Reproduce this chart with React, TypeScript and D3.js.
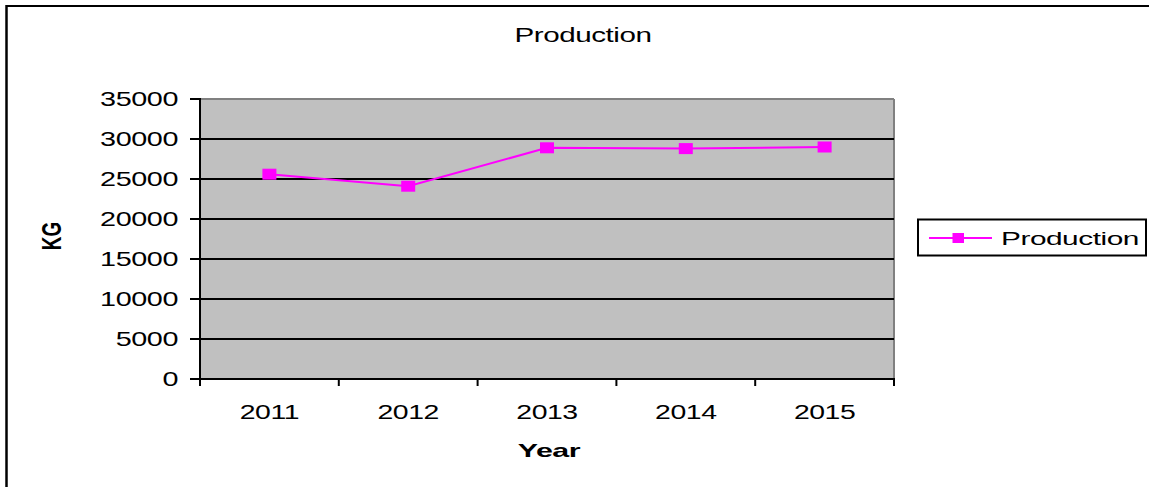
import React from "react";
import * as d3 from "d3";

const years = ["2011", "2012", "2013", "2014", "2015"];
const production = [25600, 24100, 28900, 28800, 29000];
const yTicks = [0, 5000, 10000, 15000, 20000, 25000, 30000, 35000];
const chartTitle = "Production";
const xTitle = "Year";
const yTitle = "KG";
const seriesName = "Production";

const W = 1149;
const H = 487;
const plot = { left: 200, right: 894, top: 99, bottom: 379 };
const FONT = "Arial, 'Liberation Sans', Helvetica, sans-serif";
const MAGENTA = "#FF00FF";

export default function App() {
  const x = d3
    .scaleBand<string>()
    .domain(years)
    .range([plot.left, plot.right])
    .padding(0);
  const y = d3.scaleLinear().domain([0, 35000]).range([plot.bottom, plot.top]);

  const line = d3
    .line<number>()
    .x((_, i) => (x(years[i]) as number) + x.bandwidth() / 2)
    .y((d) => y(d));

  const stretched = (
    tx: number,
    ty: number,
    text: string,
    size: number,
    anchor: string,
    scale: number,
    weight = "normal",
    key?: string
  ) => (
    <text
      key={key}
      transform={`translate(${tx},${ty}) scale(${scale},1)`}
      fontFamily={FONT}
      fontSize={size}
      fontWeight={weight}
      textAnchor={anchor}
      fill="#000"
      letterSpacing={-0.3}
    >
      {text}
    </text>
  );

  const xBoundaries = [...years.map((yr) => x(yr) as number), plot.right];

  return (
    <svg
      width={W}
      height={H}
      style={{ position: "absolute", left: 0, top: 0, background: "#fff" }}
    >
      {/* outer frame (top & left visible) */}
      <line x1={6.5} y1={6} x2={W} y2={6} stroke="#000" strokeWidth={2} />
      <line x1={6.5} y1={5} x2={6.5} y2={H} stroke="#000" strokeWidth={2.5} />

      {/* title */}
      {stretched(583, 41.5, chartTitle, 19.5, "middle", 1.52)}

      {/* plot area */}
      <rect
        x={plot.left}
        y={plot.top}
        width={plot.right - plot.left}
        height={plot.bottom - plot.top}
        fill="#C0C0C0"
      />
      <line x1={plot.left} y1={plot.top} x2={plot.right} y2={plot.top} stroke="#808080" strokeWidth={2} />
      <line x1={plot.right} y1={plot.top} x2={plot.right} y2={plot.bottom} stroke="#808080" strokeWidth={2} />

      {/* gridlines */}
      {yTicks
        .filter((t) => t > 0 && t < 35000)
        .map((t) => (
          <line
            key={"g" + t}
            x1={plot.left}
            x2={plot.right}
            y1={y(t)}
            y2={y(t)}
            stroke="#000"
            strokeWidth={1.8}
          />
        ))}

      {/* y axis */}
      <line x1={plot.left} y1={plot.top - 1} x2={plot.left} y2={plot.bottom + 6} stroke="#000" strokeWidth={2} />
      {yTicks.map((t) => (
        <g key={"yt" + t}>
          <line x1={plot.left - 10} x2={plot.left} y1={y(t)} y2={y(t)} stroke="#000" strokeWidth={2} />
          {stretched(178, y(t) + 7, String(t), 20, "end", 1.44)}
        </g>
      ))}

      {/* x axis */}
      <line x1={plot.left - 1} y1={plot.bottom} x2={plot.right + 1} y2={plot.bottom} stroke="#000" strokeWidth={2} />
      {xBoundaries.map((b, i) => (
        <line key={"xt" + i} x1={b} x2={b} y1={plot.bottom} y2={plot.bottom + 7} stroke="#000" strokeWidth={2} />
      ))}
      {years.map((yr) =>
        stretched((x(yr) as number) + x.bandwidth() / 2, 418.5, yr, 20, "middle", 1.42, "normal", "xl" + yr)
      )}

      {/* axis titles */}
      {stretched(549, 456.5, xTitle, 19, "middle", 1.6, "bold")}
      <text
        transform={`translate(61,236) scale(1.45,1) rotate(-90)`}
        fontFamily={FONT}
        fontSize={19}
        fontWeight="bold"
        textAnchor="middle"
        fill="#000"
      >
        {yTitle}
      </text>

      {/* series */}
      <path d={line(production) || ""} fill="none" stroke={MAGENTA} strokeWidth={2} />
      {production.map((v, i) => (
        <rect
          key={"m" + i}
          x={(x(years[i]) as number) + x.bandwidth() / 2 - 7}
          y={y(v) - 5.5}
          width={14}
          height={11}
          fill={MAGENTA}
        />
      ))}

      {/* legend */}
      <rect x={918} y={219.5} width={228} height={36} fill="#fff" stroke="#000" strokeWidth={2} />
      <line x1={929} x2={992} y1={238} y2={238} stroke={MAGENTA} strokeWidth={2} />
      <rect x={952.5} y={233} width={11.5} height={10} fill={MAGENTA} />
      {stretched(1001, 245, seriesName, 19, "start", 1.57)}
    </svg>
  );
}
